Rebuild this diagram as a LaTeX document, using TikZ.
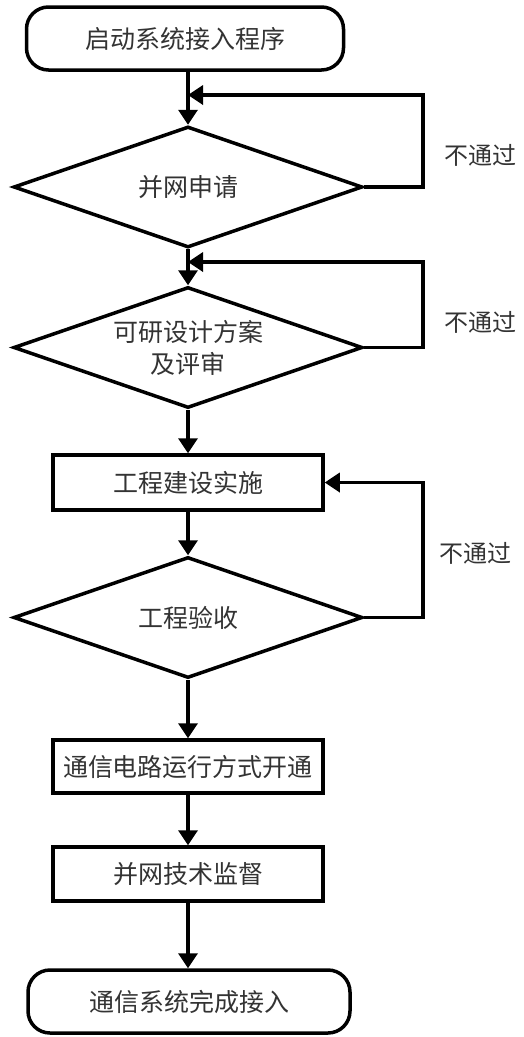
\documentclass[tikz,border=0pt]{standalone}
\usepackage{fontspec}
\setmainfont{Noto Sans CJK SC}
\usetikzlibrary{shapes.geometric,arrows.meta}
\begin{document}
\begin{tikzpicture}[x=1pt,y=-1pt,
  every node/.style={font=\fontsize{25}{32}\selectfont, text=black!80, inner sep=0pt},
  term/.style={draw=black, line width=3.5pt, rounded corners=22pt, minimum height=63pt},
  procbox/.style={draw=black, line width=3.5pt, minimum width=270pt},
  decide/.style={draw=black, line width=3.5pt, diamond, aspect=2.8, minimum width=349pt, minimum height=121pt, align=center},
  flow/.style={draw=black, line width=3.5pt, -{Triangle[width=19pt,length=15pt]}},
  lbl/.style={font=\fontsize{24}{30}\selectfont}]
\useasboundingbox (0,0) rectangle (523,1037);
\fill[white] (0,0) rectangle (523,1037);
\node[term, minimum width=317pt] (start) at (185,38.5) {启动系统接入程序};
\node[decide] (d1) at (188,187) {并网申请};
\node[decide] (d2) at (188,347.5) {可研设计方案\\及评审};
\node[procbox, minimum height=55pt] (p1) at (188,482.5) {工程建设实施};
\node[decide] (d3) at (188,617.5) {工程验收};
\node[procbox, minimum height=53pt] (p2) at (188,766.5) {通信电路运行方式开通};
\node[procbox, minimum height=54pt] (p3) at (188,874) {并网技术监督};
\node[term, minimum width=322pt] (end) at (189,1001.5) {通信系统完成接入};
\coordinate (j1) at (188,95);
\coordinate (j2) at (188,262);
\coordinate (r1) at (423,187);
\coordinate (r2) at (423,347.5);
\coordinate (r3) at (423,617.5);
\draw[flow] (start.south -| j1) -- (d1.north);
\draw[flow] (d1.south) -- (d2.north);
\draw[flow] (d2.south) -- (p1.north);
\draw[flow] (p1.south) -- (d3.north);
\draw[flow] (d3.south) -- (p2.north);
\draw[flow] (p2.south) -- (p3.north);
\draw[flow] (p3.south) -- (end.north -| p3.south);
\draw[flow] (d1.east) -- (r1) |- (j1);
\draw[flow] (d2.east) -- (r2) |- (j2);
\draw[flow] (d3.east) -- (r3) |- (p1.east);
\node[lbl] (n1) at (480,155) {不通过};
\node[lbl] (n2) at (480,322) {不通过};
\node[lbl] (n3) at (475,553) {不通过};
\end{tikzpicture}
\end{document}
